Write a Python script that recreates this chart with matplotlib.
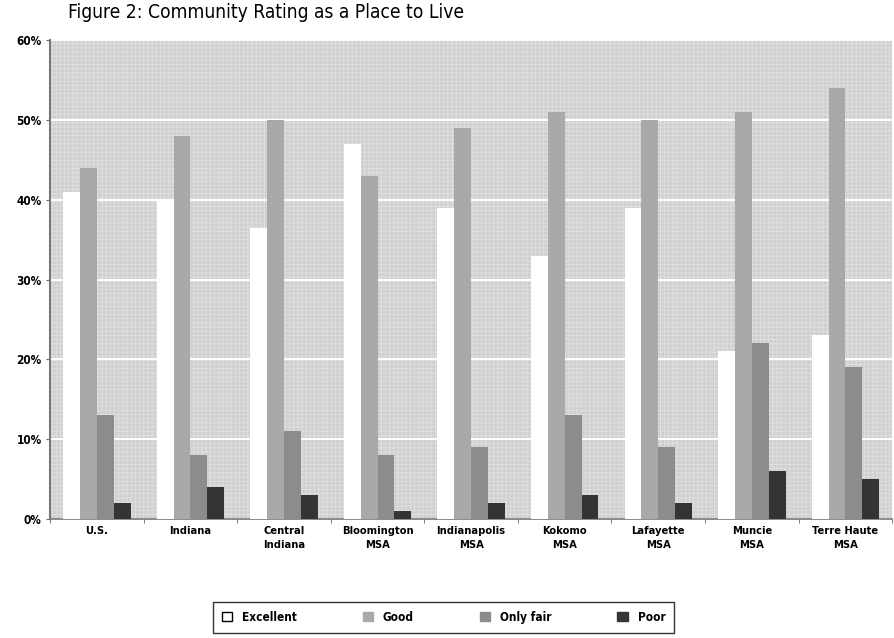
import matplotlib
matplotlib.use("Agg")
import matplotlib.pyplot as plt
from matplotlib.patches import Rectangle, Patch
import numpy as np

plt.rcParams['font.family'] = ['DejaVu Sans']
plt.rcParams['font.stretch'] = 'condensed'
plt.rcParams['hatch.linewidth'] = 0.6

# 数据
categories = ["U.S.", "Indiana", "Central\nIndiana", "Bloomington\nMSA", "Indianapolis\nMSA",
              "Kokomo\nMSA", "Lafayette\nMSA", "Muncie\nMSA", "Terre Haute\nMSA"]
series_names = ["Excellent", "Good", "Only fair", "Poor"]
excellent = [41, 40, 36.5, 47, 39, 33, 39, 21, 23]
good = [44, 48, 50, 43, 49, 51, 50, 51, 54]
only_fair = [13, 8, 11, 8, 9, 13, 9, 22, 19]
poor = [2, 4, 3, 1, 2, 3, 2, 6, 5]
y_ticks = [0, 10, 20, 30, 40, 50, 60]

colors = ["#ffffff", "#a9a9a9", "#8c8c8c", "#343434"]

fig = plt.figure(figsize=(8.94, 6.38), dpi=100)
ax = fig.add_axes([0.056, 0.1865, 0.942, 0.7508])

# 背景: 浅灰加点阵
ax.set_facecolor("#d0d0d0")
bg = Rectangle((0, 0), 1, 1, transform=ax.transAxes, facecolor="none",
               edgecolor="#e0e0e0", hatch="++++", lw=0, zorder=0)
ax.add_patch(bg)

x = np.arange(len(categories))
w = 0.18
offs = [-1.5, -0.5, 0.5, 1.5]
for vals, c, o, name in zip([excellent, good, only_fair, poor], colors, offs, series_names):
    ax.bar(x + o * w, vals, width=w, color=c, edgecolor="none", zorder=3, label=name)

ax.set_xlim(-0.5, len(categories) - 0.5)
ax.set_ylim(0, 60)
ax.set_yticks(y_ticks)
ax.set_yticklabels([f"{t}%" for t in y_ticks], fontsize=8.5, fontweight="bold")
ax.yaxis.grid(True, color="white", lw=1.4, zorder=1)
ax.set_axisbelow(True)

ax.set_xticks(x)
ax.set_xticklabels(categories, fontsize=8, fontweight="bold", linespacing=1.45)
ax.set_xticks(np.arange(len(categories) + 1) - 0.5, minor=True)
ax.tick_params(axis="x", which="major", length=0, pad=5)
ax.tick_params(axis="x", which="minor", length=3, color="#666666")
ax.tick_params(axis="y", length=3, color="#666666", pad=3)

for s in ["top", "right"]:
    ax.spines[s].set_visible(False)
ax.spines["left"].set_color("#777777")
ax.spines["left"].set_linewidth(1.5)
ax.spines["bottom"].set_color("#777777")
ax.spines["bottom"].set_linewidth(1.2)

fig.text(0.076, 0.996, "Figure 2: Community Rating as a Place to Live", fontsize=13.8,
         va="top", ha="left")

handles = [Patch(facecolor=c, edgecolor="black" if i == 0 else c, lw=1.0)
           for i, c in enumerate(colors)]
leg = fig.legend(handles, series_names, loc="upper center", bbox_to_anchor=(0.496, 0.066),
                 ncol=4, frameon=True, fancybox=False, edgecolor="black",
                 prop={"size": 8.5, "weight": "bold"}, handlelength=0.9, handleheight=0.9,
                 columnspacing=5.6, handletextpad=0.8, borderpad=0.75)
leg.get_frame().set_linewidth(1.0)

fig.savefig("out.png", dpi=100)
